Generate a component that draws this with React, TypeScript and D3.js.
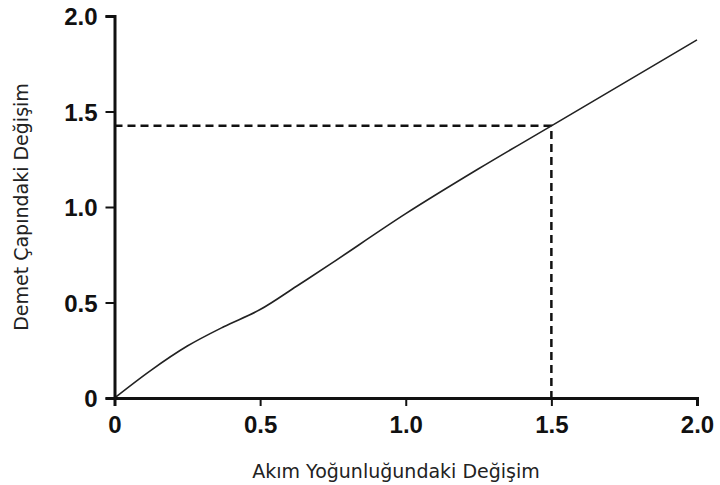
import React, { useEffect, useRef } from "react";
import { select, scaleLinear, axisBottom, axisLeft, line, curveCatmullRom } from "d3";

// değerler
const currentChange = [0, 0.125, 0.25, 0.375, 0.5, 0.625, 0.75, 1.0, 1.25, 1.5, 1.75, 2.0];
const diameterChange = [0, 0.145, 0.272, 0.373, 0.463, 0.585, 0.71, 0.965, 1.2, 1.425, 1.65, 1.875];
const tickValues = [0, 0.5, 1.0, 1.5, 2.0];
const markX = 1.5;
const markY = 1.425;

const xLabel = "Akım Yoğunluğundaki Değişim";
const yLabel = "Demet Çapındaki Değişim";

function App() {
    const svgRef = useRef<SVGSVGElement>(null);

    useEffect(() => {
        const svg = select(svgRef.current);
        const width = 720;
        const height = 485;

        const xScale = scaleLinear().domain([0, 2]).range([114.5, 697]);
        const yScale = scaleLinear().domain([0, 2]).range([398, 16]);

        const fmt = (d: any) => (d === 0 ? "0" : Number(d).toFixed(1));

        // eksenler
        const xAxis = axisBottom(xScale).tickValues(tickValues).tickFormat(fmt).tickSizeOuter(0).tickSize(8).tickPadding(10);
        const yAxis = axisLeft(yScale).tickValues(tickValues).tickFormat(fmt).tickSizeOuter(0).tickSize(9).tickPadding(8);

        const gx = svg.select(".x-axis").attr("transform", `translate(0, ${yScale(0)})`).call(xAxis as any);
        const gy = svg.select(".y-axis").attr("transform", `translate(${xScale(0)}, 0)`).call(yAxis as any);

        [gx, gy].forEach(g => {
            g.select(".domain").attr("stroke", "#111").attr("stroke-width", 3);
            g.selectAll(".tick line").attr("stroke", "#111").attr("stroke-width", 2);
            g.selectAll(".tick text")
                .attr("fill", "#111")
                .attr("font-family", "'Liberation Sans', Arial, sans-serif")
                .attr("font-weight", "bold")
                .attr("font-size", 24);
        });
        gy.selectAll(".tick text").attr("dy", "0.36em");

        // kesikli işaret çizgileri
        svg.select(".marks")
            .selectAll("path")
            .data([[[0, markY], [markX, markY], [markX, 0]]])
            .join("path")
            .attr("d", (d: any) => line().x((p: any) => xScale(p[0])).y((p: any) => yScale(p[1]))(d))
            .attr("fill", "none")
            .attr("stroke", "#111")
            .attr("stroke-width", 2.5)
            .attr("stroke-dasharray", "8,5");

        // eğri
        const points = currentChange.map((x, i) => [x, diameterChange[i]]);
        const lineGen = line<number[]>()
            .x(d => xScale(d[0]))
            .y(d => yScale(d[1]))
            .curve(curveCatmullRom);
        svg.select(".curve")
            .selectAll("path")
            .data([points])
            .join("path")
            .attr("d", d => lineGen(d))
            .attr("fill", "none")
            .attr("stroke", "#222")
            .attr("stroke-width", 1.6);

        svg.select(".x-label")
            .attr("x", 396)
            .attr("y", 478)
            .text(xLabel);
        svg.select(".y-label")
            .attr("transform", `translate(28, ${yScale(1)}) rotate(-90)`)
            .text(yLabel);

        svg.attr("width", width).attr("height", height);
    }, []);

    return (
        <React.Fragment>
            <svg ref={svgRef} style={{ position: "absolute", left: 0, top: 0, background: "#fff" }}>
                <g className="marks" />
                <g className="curve" />
                <g className="x-axis" />
                <g className="y-axis" />
                <text className="x-label" textAnchor="middle" fontFamily="'DejaVu Sans', sans-serif" fontSize={19} fill="#222" />
                <text className="y-label" textAnchor="middle" fontFamily="'DejaVu Sans', sans-serif" fontSize={19} fill="#222" />
            </svg>
        </React.Fragment>
    );
}

export default App;
